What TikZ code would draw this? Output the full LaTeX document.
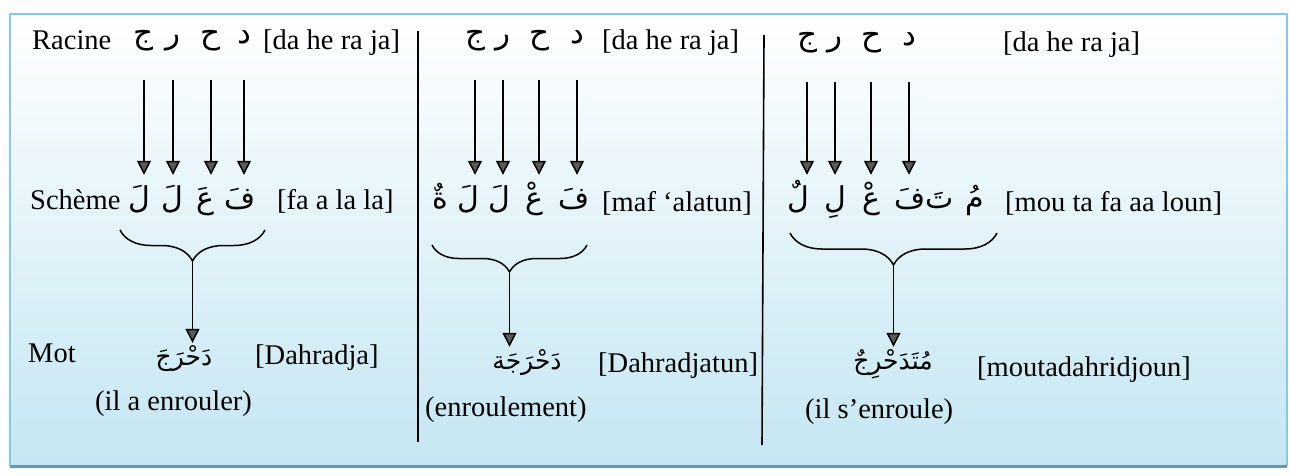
\documentclass[tikz,border=0pt]{standalone}
\usepackage{fontspec}
\setmainfont{Liberation Serif}
\newfontfamily\arabicfont[Script=Arabic]{DejaVu Sans}
\TeXXeTstate=1
\usetikzlibrary{arrows.meta,decorations.pathreplacing,calc}
\definecolor{bgblue}{RGB}{196,230,242}
\definecolor{frameblue}{RGB}{135,200,228}
\definecolor{framebot}{RGB}{105,150,175}
\definecolor{tipgray}{RGB}{90,90,90}
\begin{document}
\begin{tikzpicture}[x=1pt,y=-1pt,
  lbl/.style={font=\fontsize{28.5}{32}\selectfont, inner sep=0pt, anchor=base west},
  rl/.style={font=\arabicfont\fontsize{31}{36}\selectfont, inner sep=0pt, anchor=base, text height=16pt, text depth=8pt},
  sl/.style={font=\arabicfont\fontsize{30}{36}\selectfont, inner sep=0pt, anchor=base, text height=18pt, text depth=8pt},
  wd/.style={font=\arabicfont\fontsize{25}{30}\selectfont, inner sep=0pt, anchor=base, text height=22pt, text depth=8pt},
  arr/.style={draw=black, line width=1.5pt, -{Triangle[width=14pt,length=14pt,fill=tipgray]}},
  rootarr/.style={arr, shorten <=28pt, shorten >=15pt},
  brc/.style={draw=black, line width=1.5pt, decorate, decoration={brace, amplitude=#1}},
  divider/.style={draw=black, line width=1.6pt}]
\useasboundingbox (0,0) rectangle (1289,476);
% background and frame
\shade[top color=white, bottom color=bgblue] (10,14) rectangle (1287,466);
\draw[frameblue, line width=1.2pt] (10,466) -- (10,14) -- (1287,14) -- (1287,466);
\draw[framebot, line width=3pt] (10,466) -- (1287,466);

% ---------- panel 1 ----------
\node[lbl] (rac) at (32,50) {Racine};
\node[rl] (r11) at (144,44) {ج};
\node[rl] (r12) at (173,44) {ر};
\node[rl] (r13) at (211,44) {ح};
\node[rl] (r14) at (244,44) {د};
\node[lbl] (tr1) at (263,50) {[da he ra ja]};

\node[lbl] (sch) at (30,209) {Schème};
\node[sl] (s11) at (139,208) {لَ};
\node[sl] (s12) at (172,208) {لَ};
\node[sl] (s13) at (205,208) {عَ};
\node[sl] (s14) at (240,208) {فَ};
\node[lbl] (ts1) at (277,209) {[fa a la la]};

\draw[rootarr] (r11.south) -- (r11.south |- s11.north);
\draw[rootarr] (r12.south) -- (r12.south |- s12.north);
\draw[rootarr] (r13.south) -- (r13.south |- s13.north);
\draw[rootarr] (r14.south) -- (r14.south |- s14.north);

\coordinate (b1r) at (265,230);
\coordinate (b1l) at (120,230);
\draw[brc=31pt] (b1r) -- (b1l);
\coordinate (t1) at (192.5,261);

\node[lbl] (mot) at (28,362) {Mot};
\node[wd] (w1) at (184,365) {\beginR دَحْرَجَ\endR};
\node[lbl] (tw1) at (255,364) {[Dahradja]};
\node[lbl] (g1) at (95,410) {(il a enrouler)};
\draw[arr] (t1) -- (t1 |- w1.north);

\coordinate (d1t) at (418,31);
\coordinate (d1b) at (418,442);
\draw[divider] (d1t) -- (d1b);

% ---------- panel 2 ----------
\node[rl] (r21) at (475,44) {ج};
\node[rl] (r22) at (503,44) {ر};
\node[rl] (r23) at (539,44) {ح};
\node[rl] (r24) at (577,44) {د};
\node[lbl] (tr2) at (602,50) {[da he ra ja]};

\node[sl] (s20) at (440,208) {ةٌ};
\node[sl] (s21) at (468,208) {لَ};
\node[sl] (s22) at (499,208) {لَ};
\node[sl] (s23) at (534,208) {عْ};
\node[sl] (s24) at (574,208) {فَ};
\node[lbl] (ts2) at (602,211) {[maf ‘alatun]};

\draw[rootarr] (r21.south) -- (r21.south |- s21.north);
\draw[rootarr] (r22.south) -- (r22.south |- s22.north);
\draw[rootarr] (r23.south) -- (r23.south |- s23.north);
\draw[rootarr] (r24.south) -- (r24.south |- s24.north);

\coordinate (b2r) at (587,245);
\coordinate (b2l) at (432,245);
\draw[brc=27pt] (b2r) -- (b2l);
\coordinate (t2) at (509.5,272);

\node[wd] (w2) at (527,369) {\beginR دَحْرَجَة\endR};
\node[lbl] (tw2) at (598,372) {[Dahradjatun]};
\node[lbl] (g2) at (425,416) {(enroulement)};
\draw[arr] (t2) -- (t2 |- w2.north);

\coordinate (d2t) at (764,35);
\coordinate (d2b) at (762,445);
\draw[divider] (d2t) -- (d2b);

% ---------- panel 3 ----------
\node[rl] (r31) at (807,46) {ج};
\node[rl] (r32) at (835,46) {ر};
\node[rl] (r33) at (871,46) {ح};
\node[rl] (r34) at (909,46) {د};
\node[lbl] (tr3) at (1003,52) {[da he ra ja]};

\node[sl] (s30) at (798,208) {لٌ};
\node[sl] (s31) at (835,208) {لِ};
\node[sl] (s32) at (871,208) {عْ};
\node[sl] (s33) at (910,208) {فَ};
\node[sl] (s34) at (940,208) {تَ};
\node[sl] (s35) at (975,208) {مُ};
\node[lbl] (ts3) at (1005,211) {[mou ta fa aa loun]};

\draw[rootarr] (r31.south) -- (r31.south |- s30.north);
\draw[rootarr] (r32.south) -- (r32.south |- s31.north);
\draw[rootarr] (r33.south) -- (r33.south |- s32.north);
\draw[rootarr] (r34.south) -- (r34.south |- s33.north);

\coordinate (b3r) at (997,233);
\coordinate (b3l) at (790,233);
\draw[brc=32pt] (b3r) -- (b3l);
\coordinate (t3) at (893.5,265);

\node[wd] (w3) at (893,369) {\beginR مُتَدَحْرِجٌ\endR};
\node[lbl] (tw3) at (977,376) {[moutadahridjoun]};
\node[lbl] (g3) at (805,418) {(il s’enroule)};
\draw[arr] (t3) -- (t3 |- w3.north);
\end{tikzpicture}
\end{document}
